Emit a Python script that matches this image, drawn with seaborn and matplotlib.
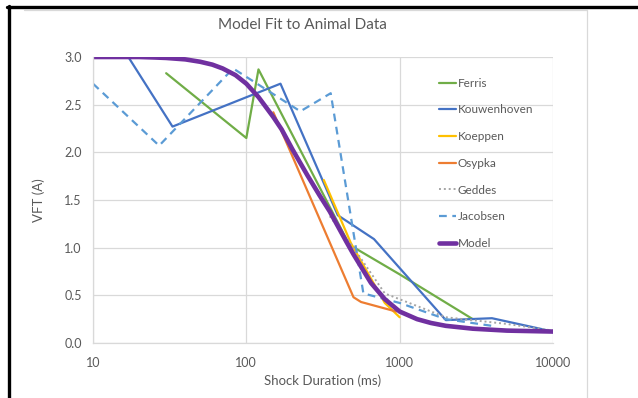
import matplotlib
matplotlib.use("Agg")
import matplotlib.pyplot as plt
import seaborn as sns
import pandas as pd
from matplotlib.lines import Line2D
from matplotlib.ticker import FixedLocator, FixedFormatter

sns.set_theme(style="white")
plt.rcParams['font.family'] = ['Lato', 'DejaVu Sans']

# ---- data ----
ferris_t = [30, 100, 120, 470, 1000, 3000]
ferris_v = [2.83, 2.15, 2.87, 1.03, 0.72, 0.25]

kouw_t = [17, 33, 167, 395, 680, 2000, 4000, 10000]
kouw_v = [3.0, 2.27, 2.72, 1.34, 1.09, 0.24, 0.26, 0.12]

koeppen_t = [320, 480, 800, 1000]
koeppen_v = [1.71, 1.05, 0.42, 0.27]

osypka_t = [150, 500, 560, 950]
osypka_v = [2.42, 0.48, 0.43, 0.33]

geddes_t = [350, 500, 800, 2000, 5000, 10000]
geddes_v = [1.33, 1.0, 0.52, 0.27, 0.2, 0.13]

jacobsen_t = [10, 27, 82, 225, 355, 580, 1000, 2000, 4000]
jacobsen_v = [2.72, 2.07, 2.88, 2.43, 2.62, 0.52, 0.42, 0.25, 0.18]

model_t = [10, 15, 20, 25, 30, 40, 50, 60, 70, 85, 100, 120, 150, 170, 200,
           250, 300, 350, 400, 450, 500, 580, 650, 800, 1000, 1300, 1600,
           2000, 3000, 5000, 10000]
model_v = [3.0, 3.0, 3.0, 2.995, 2.99, 2.975, 2.95, 2.92, 2.88, 2.81, 2.72,
           2.58, 2.37, 2.24, 2.03, 1.76, 1.55, 1.38, 1.21, 1.06, 0.93, 0.76,
           0.63, 0.46, 0.33, 0.25, 0.21, 0.18, 0.15, 0.13, 0.12]

x_ticks = [10, 100, 1000, 10000]
x_labels = ["10", "100", "1000", "10000"]
y_ticks = [0.0, 0.5, 1.0, 1.5, 2.0, 2.5, 3.0]
y_labels = ["0.0", "0.5", "1.0", "1.5", "2.0", "2.5", "3.0"]

series = [
    ("Ferris", ferris_t, ferris_v, "#70AD47", "-", 1.6),
    ("Kouwenhoven", kouw_t, kouw_v, "#4472C4", "-", 1.6),
    ("Koeppen", koeppen_t, koeppen_v, "#FFC000", "-", 1.6),
    ("Osypka", osypka_t, osypka_v, "#ED7D31", "-", 1.6),
    ("Geddes", geddes_t, geddes_v, "#A5A5A5", (0, (1, 1.5)), 1.4),
    ("Jacobsen", jacobsen_t, jacobsen_v, "#5B9BD5", (0, (3.5, 2.5)), 1.6),
    ("Model", model_t, model_v, "#7030A0", "-", 3.3),
]

fig = plt.figure(figsize=(6.38, 3.98), dpi=100)
fig.patch.set_facecolor("white")
W, H = 638, 398
ax = fig.add_axes([93 / W, 1 - 343 / H, (553 - 93) / W, (343 - 57) / H])

for name, t, v, col, ls, lw in series:
    df = pd.DataFrame({"t": t, "v": v})
    sns.lineplot(data=df, x="t", y="v", ax=ax, color=col, linestyle=ls,
                 linewidth=lw, label=name, sort=False, estimator=None)

ax.set_xscale("log")
ax.set_xlim(10, 10000)
ax.set_ylim(0, 3.0)
ax.xaxis.set_major_locator(FixedLocator(x_ticks))
ax.xaxis.set_major_formatter(FixedFormatter(x_labels))
ax.xaxis.set_minor_locator(FixedLocator([]))
ax.yaxis.set_major_locator(FixedLocator(y_ticks))
ax.yaxis.set_major_formatter(FixedFormatter(y_labels))
ax.grid(True, color="#D9D9D9", linewidth=0.9)
ax.set_axisbelow(True)
for s in ["top", "right"]:
    ax.spines[s].set_visible(False)
for s in ["left", "bottom"]:
    ax.spines[s].set_color("#D9D9D9")
    ax.spines[s].set_linewidth(0.9)
ax.tick_params(axis="both", length=0, colors="#595959", labelsize=9)
ax.tick_params(axis="x", pad=10)
ax.tick_params(axis="y", pad=8)
ax.set_xlabel("Shock Duration (ms)", color="#595959", fontsize=9.5, labelpad=4)
ax.set_ylabel("VFT (A)", color="#595959", fontsize=9.5, labelpad=14)
fig.text(302 / W, 1 - 25 / H, "Model Fit to Animal Data", ha="center", va="center",
         color="#595959", fontsize=11)

leg = ax.legend(loc="upper left", bbox_to_anchor=((434 - 93) / 460, 1 - (73 - 57) / 286),
                frameon=False, fontsize=8.5, handlelength=1.5, handletextpad=0.1,
                labelspacing=1.33, borderaxespad=0)
for txt in leg.get_texts():
    txt.set_color("#595959")

# chart border and black frame
fig.add_artist(Line2D([24 / W, 587 / W], [1 - 10 / H, 1 - 10 / H], color="#D9D9D9", lw=0.9))
fig.add_artist(Line2D([587 / W, 587 / W], [0, 1 - 10 / H], color="#D9D9D9", lw=0.9))
fig.add_artist(Line2D([7 / W, 1], [1 - 7 / H, 1 - 7 / H], color="black", lw=2.4))
fig.add_artist(Line2D([8.5 / W, 8.5 / W], [0, 1 - 6 / H], color="black", lw=2.4))

fig.savefig("out.png", dpi=100, facecolor="white")
